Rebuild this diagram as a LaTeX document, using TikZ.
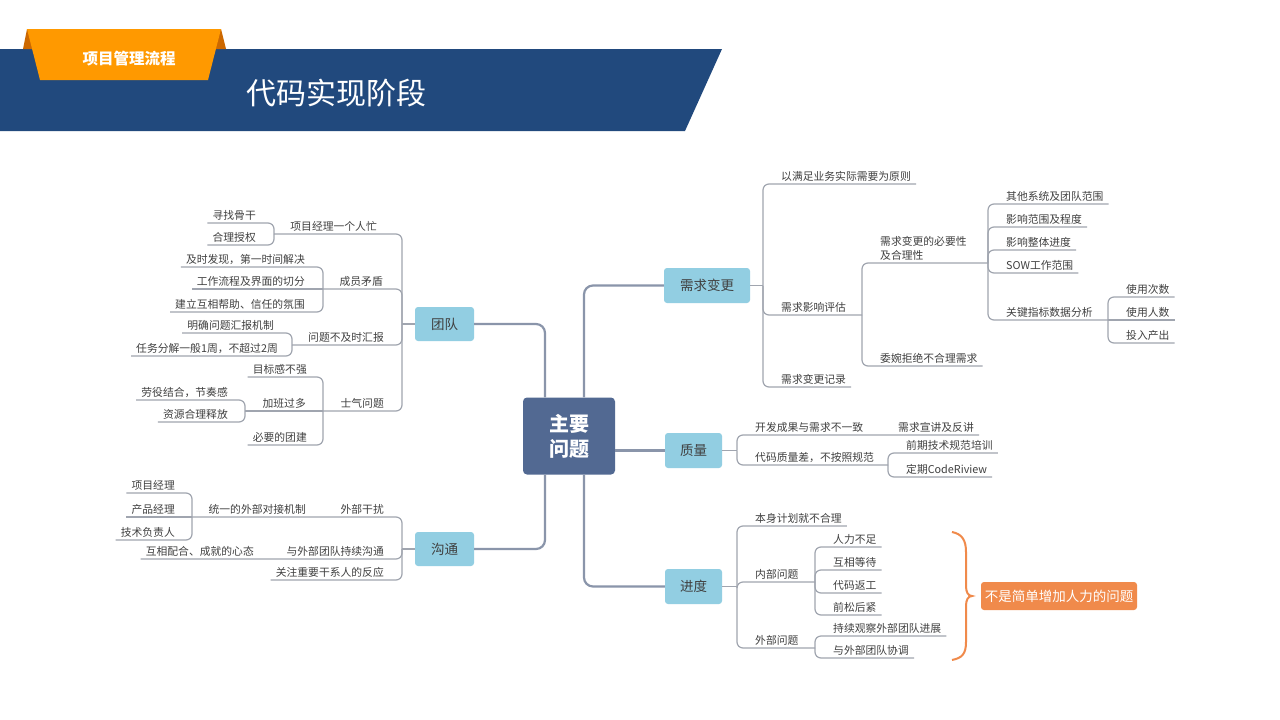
\documentclass[tikz,border=0pt]{standalone}
\usepackage{fontspec}
\setmainfont{Noto Sans CJK SC}
\usetikzlibrary{calc}
\definecolor{band}{RGB}{33,73,125}
\definecolor{tabor}{RGB}{255,153,0}
\definecolor{tabdk}{RGB}{204,104,0}
\definecolor{cbox}{RGB}{82,105,146}
\definecolor{lblue}{RGB}{146,206,226}
\definecolor{hl}{RGB}{240,138,75}
\definecolor{txt}{RGB}{64,64,64}
\definecolor{thinln}{RGB}{160,165,175}
\definecolor{thickln}{RGB}{138,149,170}
\tikzset{
 lbl/.style={font=\fontsize{10.8}{13}\selectfont, text=txt, inner sep=0pt},
 sub/.style={draw=thinln, line width=1.2pt, rounded corners=6pt},
 mainln/.style={draw=thickln, line width=2.2pt, rounded corners=9pt},
 branch/.style={fill=lblue, rounded corners=3pt, minimum height=35pt, text=txt, font=\fontsize{13.5}{16}\selectfont, inner sep=0pt},
}
\newcommand\rleaf[5]{\node[lbl,anchor=base west] (#1) at ({#3+18},{#4-4}) {#5}; \draw[sub] (#2) |- ($(#1.base east)+(5,4)$);}
\newcommand\rleafs[5]{\node[lbl,anchor=base west] (#1) at ({#3+18},{#4-4}) {#5}; \draw[sub] (#2) -- ($(#1.base east)+(5,4)$);}
\newcommand\lleaf[5]{\node[lbl,anchor=base east] (#1) at ({#3-18},{#4-4}) {#5}; \draw[sub] (#2) |- ($(#1.base west)+(-5,4)$);}
\newcommand\lleafs[5]{\node[lbl,anchor=base east] (#1) at ({#3-18},{#4-4}) {#5}; \draw[sub] (#2) -- ($(#1.base west)+(-5,4)$);}
\begin{document}
\begin{tikzpicture}[x=1pt,y=-1pt]
\useasboundingbox (0,0) rectangle (1280,720);
\fill[white] (0,0) rectangle (1280,720);
% header
\fill[band] (0,49) -- (722,49) -- (685,131) -- (0,131) -- cycle;
\fill[tabdk] (23,49) -- (27,29) -- (221,29) -- (226,49) -- cycle;
\fill[tabor] (27,29) -- (221,29) -- (208,80) -- (40,80) -- cycle;
\node[font=\bfseries\fontsize{15.5}{18}\selectfont, text=white] (tabtxt) at (129,59) {项目管理流程};
\node[font=\fontsize{30}{34}\selectfont, text=white, anchor=west, inner sep=0pt] (title) at (246,93) {代码实现阶段};
% main nodes
\node[fill=cbox, rounded corners=4pt, minimum width=92pt, minimum height=77pt, text=white, font=\bfseries\fontsize{20}{25}\selectfont, align=center, inner sep=0pt] (ctr) at (569,436) {主要\\问题};
\node[branch, minimum width=86pt] (rq) at (707,285.5) {需求变更};
\node[branch, minimum width=57pt] (zl) at (693.5,450.5) {质量};
\node[branch, minimum width=57pt] (jd) at (693.5,586.5) {进度};
\node[branch, minimum width=59pt, minimum height=34pt] (td) at (444.5,324) {团队};
\node[branch, minimum width=59pt, minimum height=34pt] (gt) at (444.5,549) {沟通};
\draw[mainln] ([xshift=15pt]ctr.north) |- (rq.west);
\draw[mainln] ([xshift=-24pt]ctr.north) |- (td.east);
\draw[mainln] (ctr.east |- zl.west) -- (zl.west);
\draw[mainln] ([xshift=-24pt]ctr.south) |- (gt.east);
\draw[mainln] ([xshift=15pt]ctr.south) |- (jd.west);
% ---- 需求变更
\coordinate (J1) at (763,285.5);
\draw[sub] (rq.east) -- (J1);
\rleaf{r1}{J1}{763}{184}{以满足业务实际需要为原则}
\node[lbl,anchor=base west] (r2) at (781,311) {需求影响评估};
\coordinate (J2) at (862,315);
\draw[sub] (J1) |- (J2);
\rleaf{r3}{J1}{763}{387}{需求变更记录}
\node[lbl,anchor=west,align=left,font=\fontsize{10.8}{14}\selectfont] (r21) at (880,248) {需求变更的必要性\\及合理性};
\coordinate (J3) at (988,263);
\draw[sub] (J2) |- (J3);
\rleaf{r22}{J2}{862}{366}{委婉拒绝不合理需求}
\rleaf{r211}{J3}{988}{204}{其他系统及团队范围}
\rleaf{r212}{J3}{988}{227}{影响范围及程度}
\rleaf{r213}{J3}{988}{250}{影响整体进度}
\rleaf{r214}{J3}{988}{273}{SOW工作范围}
\node[lbl,anchor=base west] (r215) at (1006,316) {关键指标数据分析};
\coordinate (J4) at (1108,320);
\draw[sub] (J3) |- (J4);
\rleaf{r2151}{J4}{1108}{297}{使用次数}
\rleafs{r2152}{J4}{1108}{320}{使用人数}
\rleaf{r2153}{J4}{1108}{343}{投入产出}
% ---- 质量
\coordinate (J5) at (737,450.5);
\draw[sub] (zl.east) -- (J5);
\node[lbl,anchor=base west] (q1) at (755,431) {开发成果与需求不一致};
\node[lbl,anchor=base west] (q11) at (898,431) {需求宣讲及反讲};
\draw[sub] (J5) |- ($(q11.base east)+(5,4)$);
\node[lbl,anchor=base west] (q2) at (755,461) {代码质量差，不按照规范};
\coordinate (J6) at (888,465);
\draw[sub] (J5) |- (J6);
\rleaf{q21}{J6}{888}{453}{前期技术规范培训}
\rleaf{q22}{J6}{888}{477}{定期CodeRiview}
% ---- 进度
\coordinate (J7) at (737,586.5);
\draw[sub] (jd.east) -- (J7);
\rleaf{p1}{J7}{737}{526}{本身计划就不合理}
\node[lbl,anchor=base west] (p2) at (755,578) {内部问题};
\coordinate (J8) at (815,582);
\draw[sub] (J7) |- (J8);
\node[lbl,anchor=base west] (p3) at (755,644) {外部问题};
\coordinate (J9) at (815,648);
\draw[sub] (J7) |- (J9);
\rleaf{p21}{J8}{815}{547}{人力不足}
\rleaf{p22}{J8}{815}{570}{互相等待}
\rleaf{p23}{J8}{815}{593}{代码返工}
\rleaf{p24}{J8}{815}{615}{前松后紧}
\rleaf{p31}{J9}{815}{636}{持续观察外部团队进展}
\rleaf{p32}{J9}{815}{658}{与外部团队协调}
% highlight
\node[fill=hl, rounded corners=3pt, minimum width=156pt, minimum height=28pt, text=white, font=\fontsize{13.5}{16}\selectfont, inner sep=0pt] (hlbox) at (1059,596) {不是简单增加人力的问题};
\draw[hl, line width=2pt] (952,532) .. controls (962,534) and (966,540) .. (966,552) -- (966,586) .. controls (966,592) and (968,596) .. (972,596) .. controls (968,596) and (966,600) .. (966,606) -- (966,642) .. controls (966,654) and (962,658) .. (952,660);
% ---- 团队
\coordinate (J10) at (402,324);
\draw[sub] (td.west) -- (J10);
\node[lbl,anchor=base east] (t1) at (377,230) {项目经理一个人忙};
\coordinate (J11) at (274,234);
\draw[sub] (J10) |- (J11);
\lleaf{t11}{J11}{274}{223}{寻找骨干}
\lleaf{t12}{J11}{274}{245}{合理授权}
\node[lbl,anchor=base east] (t2) at (383,285) {成员矛盾};
\coordinate (J12) at (323,289);
\draw[sub] (J10) |- (J12);
\lleaf{t21}{J12}{323}{267}{及时发现，第一时间解决}
\lleafs{t22}{J12}{323}{289}{工作流程及界面的切分}
\lleaf{t23}{J12}{323}{312}{建立互相帮助、信任的氛围}
\node[lbl,anchor=base east] (t3) at (384,341) {问题不及时汇报};
\coordinate (J13) at (292,345);
\draw[sub] (J10) |- (J13);
\lleaf{t31}{J13}{292}{333}{明确问题汇报机制}
\lleaf{t32}{J13}{296}{356}{任务分解一般1周，不超过2周}
\node[lbl,anchor=base east] (t4) at (384,407) {士气问题};
\coordinate (J14) at (323,411);
\draw[sub] (J10) |- (J14);
\lleaf{t41}{J14}{325}{377}{目标感不强}
\node[lbl,anchor=base east] (t42) at (306,407) {加班过多};
\coordinate (J15) at (245,411);
\draw[sub] (J14) -- (J15);
\lleaf{t43}{J14}{325}{445}{必要的团建}
\lleaf{t421}{J15}{246}{400}{劳役结合，节奏感}
\lleaf{t422}{J15}{246}{422}{资源合理释放}
% ---- 沟通
\coordinate (J16) at (402,549);
\draw[sub] (gt.west) -- (J16);
\node[lbl,anchor=base east] (g1) at (384,513) {外部干扰};
\node[lbl,anchor=base east] (g11) at (306,513) {统一的外部对接机制};
\coordinate (J17) at (192,517);
\draw[sub] (J16) |- (J17);
\lleaf{g111}{J17}{193}{493}{项目经理}
\lleafs{g112}{J17}{193}{517}{产品经理}
\lleaf{g113}{J17}{193}{540}{技术负责人}
\node[lbl,anchor=base east] (g2) at (384,555) {与外部团队持续沟通};
\node[lbl,anchor=base east] (g21) at (254,555) {互相配合、成就的心态};
\draw[sub] (J16) |- ($(g21.base west)+(-5,4)$);
\lleaf{g3}{J16}{402}{580}{关注重要干系人的反应}
\end{tikzpicture}
\end{document}
